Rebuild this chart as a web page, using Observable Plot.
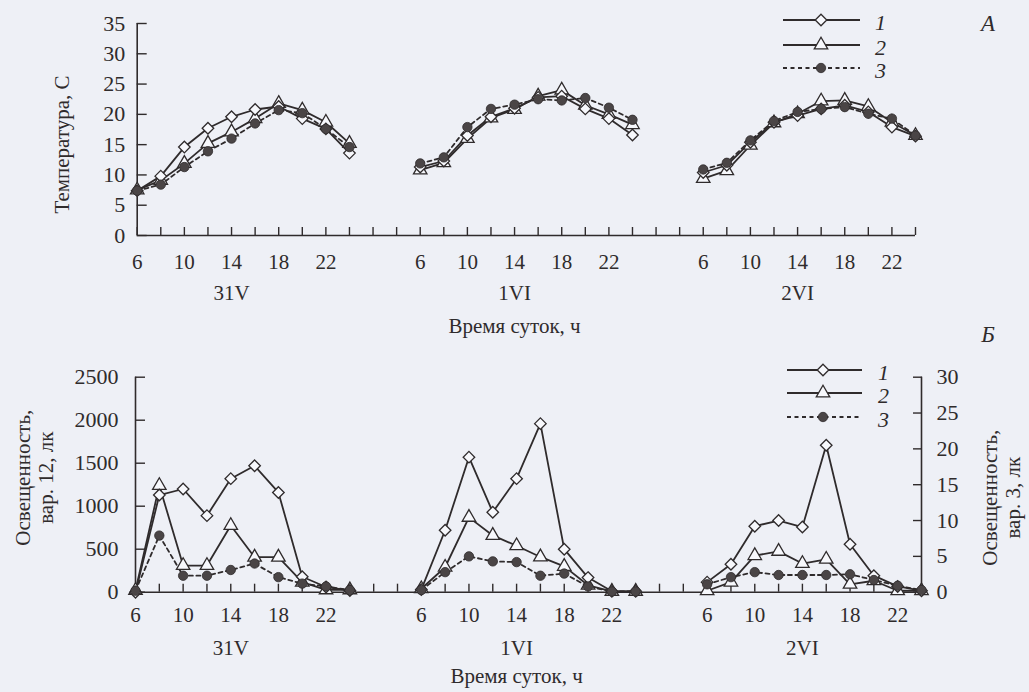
<!DOCTYPE html>
<html>
<head>
<meta charset="utf-8">
<script src="https://cdn.jsdelivr.net/npm/d3@7"></script>
<script src="https://cdn.jsdelivr.net/npm/@observablehq/plot@0.6"></script>
<style>
  html, body { margin: 0; padding: 0; background: #eef0f6; }
  #wrap { position: relative; width: 1029px; height: 692px; overflow: hidden; background: #eef0f6; }
  #wrap > svg { position: absolute; left: 0; }
</style>
</head>
<body>
<div id="wrap"></div>
<script>
// Sampling hours within each day and the three observation dates
const hours = [6, 8, 10, 12, 14, 16, 18, 20, 22, 24];
const days = ["31V", "1VI", "2VI"];
const hourLabels = [6, 10, 14, 18, 22];
const seriesNames = ["1", "2", "3"];

// Axis ticks
const tempTicks = [0, 5, 10, 15, 20, 25, 30, 35];
const luxTicks = [0, 500, 1000, 1500, 2000, 2500];
const lux3Ticks = [0, 5, 10, 15, 20, 25, 30];

// Air temperature, °C (10 readings per day: 31V, 1VI, 2VI)
const temp1 = [7.4, 9.8, 14.6, 17.7, 19.6, 20.8, 21.3, 19.3, 17.6, 13.6,
               11.3, 12.3, 16.5, 19.6, 21.0, 22.8, 23.0, 20.9, 19.3, 16.6,
               10.4, 11.6, 15.4, 18.7, 19.8, 20.9, 21.5, 20.4, 17.9, 16.4];
const temp2 = [7.5, 9.1, 11.9, 15.2, 17.1, 19.3, 21.8, 20.7, 18.7, 15.2,
               10.8, 12.0, 16.0, 19.4, 20.8, 23.0, 24.0, 21.5, 20.0, 18.3,
               9.4, 10.7, 14.9, 18.6, 20.1, 22.2, 22.3, 21.3, 18.7, 16.5];
const temp3 = [7.4, 8.4, 11.3, 13.9, 16.0, 18.5, 20.7, 20.2, 17.6, 14.6,
               11.9, 12.9, 17.9, 20.9, 21.6, 22.5, 22.3, 22.7, 21.1, 19.1,
               10.9, 12.0, 15.7, 18.9, 20.4, 20.9, 21.2, 20.1, 19.3, 16.5];

// Illuminance, lx: variants 1 and 2 on the left axis, variant 3 on the right axis
const lux1 = [0, 1130, 1200, 890, 1320, 1470, 1160, 180, 60, 20,
              30, 720, 1570, 930, 1320, 1960, 500, 170, 10, 10,
              117, 325, 767, 833, 758, 1708, 558, 192, 67, 17];
const lux2 = [20, 1240, 310, 310, 775, 407, 407, 116, 27, 27,
              40, 290, 870, 660, 540, 410, 300, 80, 10, 10,
              17, 117, 425, 475, 333, 383, 92, 133, 17, 17];
const lux3 = [0.2, 7.9, 2.3, 2.3, 3.1, 4.0, 2.1, 1.2, 0.8, 0.3,
              0.3, 2.8, 5.0, 4.3, 4.2, 2.3, 2.6, 0.8, 0.1, 0.1,
              1.1, 2.1, 2.8, 2.4, 2.4, 2.4, 2.5, 1.7, 0.9, 0.3];

const ink = "#2f2b2c";
const markerFill = "#f7f8fc";
const dotFill = "#4a4546";
const FONT = "'Liberation Serif', 'Times New Roman', serif";

// right-axis units -> left-axis units
const k3 = luxTicks[luxTicks.length - 1] / lux3Ticks[lux3Ticks.length - 1];

// continuous time axis in hours counted from midnight of the first date
const toRows = (vals, scale = 1) => vals.map((v, k) => {
  const d = Math.floor(k / hours.length);
  return {t: 24 * d + hours[k % hours.length], day: d, y: v * scale};
});
const xDomain = [hours[0], 24 * (days.length - 1) + hours[hours.length - 1]];
const xTicks = d3.range(xDomain[0], xDomain[1] + 1, 2);
const xLabelTicks = days.flatMap((_, d) => hourLabels.map(h => 24 * d + h));
const dayCenter = (d, i) => 24 * i + 14;

function seriesMarks(s1, s2, s3) {
  const lineOpts = {x: "t", y: "y", z: "day", stroke: ink, strokeWidth: 1.8};
  return [
    Plot.line(s3, {...lineOpts, strokeDasharray: "4,3.5"}),
    Plot.line(s2, lineOpts),
    Plot.line(s1, lineOpts),
    Plot.dot(s2, {x: "t", y: "y", symbol: "triangle", r: 5, fill: markerFill, stroke: ink, strokeWidth: 1.3}),
    Plot.dot(s1, {x: "t", y: "y", symbol: "diamond2", r: 5.2, fill: markerFill, stroke: ink, strokeWidth: 1.3}),
    Plot.dot(s3, {x: "t", y: "y", symbol: "circle", r: 4.7, fill: dotFill, stroke: ink, strokeWidth: 0.8})
  ];
}

function xAxisMarks(padding, dayDy, titleDy) {
  return [
    Plot.ruleY([0], {stroke: ink, strokeWidth: 1.6}),
    Plot.axisX({ticks: xTicks, tickSize: 8, dy: -8, fill: "none", stroke: ink, strokeWidth: 1.4, label: null}),
    Plot.axisX({ticks: xLabelTicks, tickSize: 0, tickPadding: padding, tickFormat: t => t % 24, fill: ink, label: null}),
    Plot.text(days, {x: dayCenter, text: d => d, frameAnchor: "bottom", lineAnchor: "middle", dy: dayDy, fill: ink, fontSize: 21}),
    Plot.text(["Время суток, ч"], {x: 38, frameAnchor: "bottom", lineAnchor: "middle", dy: titleDy, fill: ink, fontSize: 21})
  ];
}

const styleBase = {background: "transparent", fontFamily: FONT, fontSize: "21px", color: ink, overflow: "visible"};

// Panel A: temperature
const panelA = Plot.plot({
  width: 1029, height: 345,
  marginLeft: 136.7, marginRight: 114, marginTop: 23, marginBottom: 110,
  style: styleBase,
  x: {domain: xDomain},
  y: {domain: [0, 35]},
  marks: [
    Plot.ruleX([xDomain[0]], {stroke: ink, strokeWidth: 1.6}),
    Plot.axisY({ticks: tempTicks, tickSize: 10, dx: 10, fill: "none", stroke: ink, strokeWidth: 1.4, label: null}),
    Plot.axisY({ticks: tempTicks, tickSize: 0, tickPadding: 12, fill: ink, label: null, fontSize: 22}),
    Plot.text(["Температура, С"], {frameAnchor: "left", textAnchor: "middle", lineAnchor: "middle", rotate: -90, dx: -75, dy: 15, fill: ink, fontSize: 21}),
    ...xAxisMarks(19, 58, 91),
    ...seriesMarks(toRows(temp1), toRows(temp2), toRows(temp3))
  ]
});
panelA.style.top = "0px";

// Panel Б: illuminance
const panelB = Plot.plot({
  width: 1029, height: 347,
  marginLeft: 135, marginRight: 108, marginTop: 31.7, marginBottom: 100.3,
  style: styleBase,
  x: {domain: xDomain},
  y: {domain: [0, luxTicks[luxTicks.length - 1]]},
  marks: [
    Plot.ruleX([xDomain[0], xDomain[1]], {stroke: ink, strokeWidth: 1.6}),
    Plot.axisY({ticks: luxTicks, tickSize: 10, dx: 10, fill: "none", stroke: ink, strokeWidth: 1.4, label: null}),
    Plot.axisY({ticks: luxTicks, tickSize: 0, tickPadding: 17, tickFormat: d => String(d), fill: ink, label: null, fontSize: 22}),
    Plot.axisY({anchor: "right", ticks: lux3Ticks.map(v => v * k3), tickSize: 9, dx: -9, fill: "none", stroke: ink, strokeWidth: 1.4, label: null}),
    Plot.axisY({anchor: "right", ticks: lux3Ticks.map(v => v * k3), tickSize: 0, tickPadding: 15, tickFormat: v => String(Math.round(v / k3)), fill: ink, label: null, fontSize: 22}),
    Plot.text(["Освещенность,\nвар. 12, лк"], {frameAnchor: "left", textAnchor: "middle", lineAnchor: "middle", rotate: -90, dx: -101, dy: -7, lineHeight: 1.1, fill: ink, fontSize: 21}),
    Plot.text(["Освещенность,\nвар. 3, лк"], {frameAnchor: "right", textAnchor: "middle", lineAnchor: "middle", rotate: -90, dx: 80, dy: 13, lineHeight: 1.1, fill: ink, fontSize: 21}),
    ...xAxisMarks(15, 56, 84),
    ...seriesMarks(toRows(lux1), toRows(lux2), toRows(lux3, k3))
  ]
});
panelB.style.top = "345px";

const wrap = document.getElementById("wrap");
wrap.appendChild(panelA);
wrap.appendChild(panelB);

// Legends and panel letters
const leg = d3.create("svg")
  .attr("width", 1029).attr("height", 692)
  .style("top", "0px")
  .style("pointer-events", "none")
  .style("font-family", FONT);

const symbols = [
  {sym: d3.symbolDiamond2, r: 5.2, fill: markerFill, sw: 1.3, dash: null},
  {sym: d3.symbolTriangle, r: 5, fill: markerFill, sw: 1.3, dash: null},
  {sym: d3.symbolCircle, r: 4.7, fill: dotFill, sw: 0.8, dash: "4,3.5"}
];
const legendBlocks = [
  {x0: 783, x1: 860, mx: 821, ys: [20, 45, 68], lx: 875, letter: "А", letterX: 988, letterY: 24},
  {x0: 787, x1: 862, mx: 823, ys: [370, 393, 417], lx: 878, letter: "Б", letterX: 988, letterY: 335}
];
for (const b of legendBlocks) {
  seriesNames.forEach((name, i) => {
    const s = symbols[i];
    const y = b.ys[i];
    leg.append("line")
      .attr("x1", b.x0).attr("x2", b.x1).attr("y1", y).attr("y2", y)
      .attr("stroke", ink).attr("stroke-width", 1.8)
      .attr("stroke-dasharray", s.dash);
    leg.append("path")
      .attr("d", d3.symbol(s.sym, Math.PI * s.r * s.r)())
      .attr("transform", `translate(${b.mx},${y})`)
      .attr("fill", s.fill).attr("stroke", ink).attr("stroke-width", s.sw);
    leg.append("text")
      .attr("x", b.lx).attr("y", y + 3)
      .attr("dy", "0.32em")
      .attr("font-size", 22).attr("font-style", "italic")
      .attr("fill", ink)
      .text(name);
  });
  leg.append("text")
    .attr("x", b.letterX).attr("y", b.letterY)
    .attr("dy", "0.32em").attr("text-anchor", "middle")
    .attr("font-size", 23).attr("font-style", "italic")
    .attr("fill", ink)
    .text(b.letter);
}
wrap.appendChild(leg.node());
</script>
</body>
</html>
